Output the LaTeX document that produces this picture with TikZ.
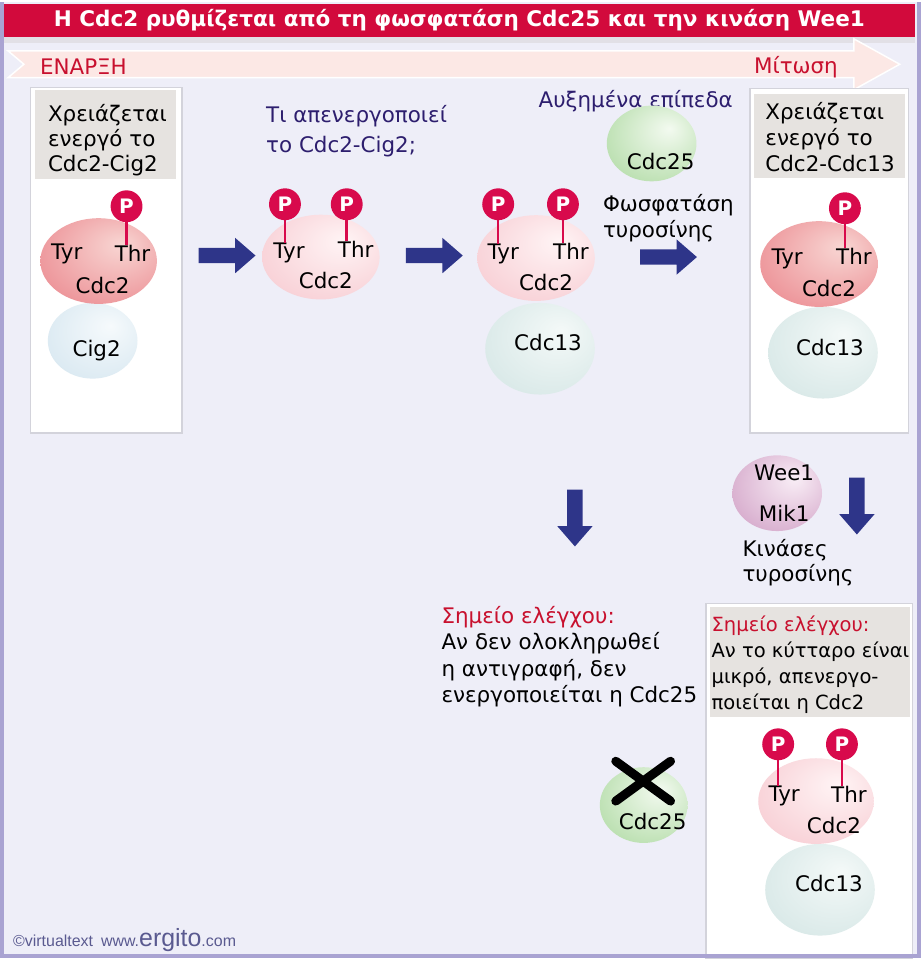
\documentclass[tikz,border=0pt]{standalone}
\usepackage{fontspec}
\setmainfont{DejaVu Sans}
\newfontfamily\footfont{Liberation Sans}
\usetikzlibrary{shapes.arrows,shapes.geometric,calc}

\definecolor{bgcol}{HTML}{EEEEF8}
\definecolor{framecol}{HTML}{A9A3D2}
\definecolor{titlered}{HTML}{D20A3C}
\definecolor{stripgray}{HTML}{E2E0E6}
\definecolor{bandpink}{HTML}{FCE8E5}
\definecolor{checkred}{HTML}{C8102E}
\definecolor{navytext}{HTML}{2D1E6E}
\definecolor{arrowblue}{HTML}{2E3589}
\definecolor{pred}{HTML}{D80A4C}
\definecolor{headgray}{HTML}{E6E3E0}
\definecolor{panelline}{HTML}{D3D3DB}
\definecolor{footcol}{HTML}{5A5A90}
\definecolor{cdcAin}{HTML}{F8D6D3}
\definecolor{cdcAout}{HTML}{E35A66}
\definecolor{cdcIin}{HTML}{FFF4F5}
\definecolor{cdcIout}{HTML}{F2B2BC}
\definecolor{cigin}{HTML}{F6FAFC}
\definecolor{cigout}{HTML}{C3DBE9}
\definecolor{cycin}{HTML}{F4F9F8}
\definecolor{cycout}{HTML}{C2DBDA}
\definecolor{ptpin}{HTML}{F3FAF0}
\definecolor{ptpout}{HTML}{89C878}
\definecolor{weein}{HTML}{F9EEF6}
\definecolor{weeout}{HTML}{BA74AA}

\pgfdeclareradialshading{shCdcA}{\pgfpoint{10bp}{10bp}}{color(0bp)=(cdcAin); color(62bp)=(cdcAout)}
\pgfdeclareradialshading{shCdcI}{\pgfpoint{10bp}{10bp}}{color(0bp)=(cdcIin); color(62bp)=(cdcIout)}
\pgfdeclareradialshading{shCig}{\pgfpoint{10bp}{10bp}}{color(0bp)=(cigin); color(62bp)=(cigout)}
\pgfdeclareradialshading{shCyc}{\pgfpoint{10bp}{10bp}}{color(0bp)=(cycin); color(62bp)=(cycout)}
\pgfdeclareradialshading{shPtp}{\pgfpoint{10bp}{10bp}}{color(0bp)=(ptpin); color(62bp)=(ptpout)}
\pgfdeclareradialshading{shWee}{\pgfpoint{10bp}{10bp}}{color(0bp)=(weein); color(62bp)=(weeout)}

\tikzset{
  txt/.style={inner sep=0pt, font=\fontsize{21.5}{25}\selectfont},
  lines/.style={txt, align=left, anchor=north west},
  phase/.style={inner sep=0pt, text=checkred, font=\fontsize{21.5}{22}\selectfont},
  panel/.style={draw=panelline, line width=1.5pt, fill=white, anchor=north west, inner sep=0pt},
  headbox/.style={fill=headgray, anchor=north west, inner sep=0pt},
  prot/.style={ellipse, inner sep=0pt},
  phos/.style={circle, fill=pred, text=white, inner sep=0pt, minimum size=32pt,
    font=\bfseries\fontsize{20}{20}\selectfont},
  stem/.style={pred, line width=2.5pt},
  fwd/.style={single arrow, fill=arrowblue, inner sep=7.5pt, single arrow head extend=10pt,
    single arrow tip angle=82, minimum height=57pt},
  down/.style={fwd, rotate=-90},
  cross/.style={line width=9pt, line cap=round}
}

\begin{document}
\begin{tikzpicture}[x=1pt,y=-1pt]
	\fill[bgcol] (0,0) rectangle (924,959);
	\fill[stripgray] (4,35) rectangle (918,41);
	\fill[titlered] (4,2) rectangle (918,35);
	\node[text=white, font=\bfseries\fontsize{21.6}{22}\selectfont] (title) at (461,18) {Η Cdc2 ρυθμίζεται από τη φωσφατάση Cdc25 και την κινάση Wee1};
	
	% time band
	\fill[bandpink, draw=white, line width=1.5pt] (8,49) -- (857,49) -- (857,37) -- (903,62.5) -- (857,88) -- (857,76) -- (8,76) -- (24,62.5) -- cycle;
	\node[phase, anchor=west] (start) at (40,65) {ΕΝΑΡΞΗ};
	\node[phase, anchor=east] (mitosis) at (841,65) {Μίτωση};
	
	% Cdc2-Cig2
	\node[panel, minimum width=152, minimum height=347] (box1) at (30,85) {};
	\node[headbox, minimum width=141, minimum height=89] (head1) at (35,88) {};
	\node[lines] (need1) at (48,103) {Χρειάζεται\\ενεργό το\\Cdc2-Cig2};
	\node[prot, shading=shCig, minimum width=90, minimum height=76] (cig1) at (93,340) {};
	\node[prot, shading=shCdcA, minimum width=117, minimum height=86] (cdc1) at (99,260) {};
	\node[txt] (tyr1) at (67,253) {Tyr};
	\node[txt] (thr1) at (133,252) {Thr};
	\node[txt] (lab1) at (103,285) {Cdc2};
	\node[txt] (cigl1) at (97,350) {Cig2};
	\node[phos] (p1) at (127,205) {P};
	\draw[stem] (p1.south) -- (p1.south |- thr1.north);
	
	\node[fwd] (a1) at (223.5,254.5) {};
	
	\node[lines, text=navytext, font=\fontsize{21.5}{30}\selectfont] (ask) at (267,104) {Τι απενεργοποιεί\\το Cdc2-Cig2;};
	\node[prot, shading=shCdcI, minimum width=118, minimum height=85] (cdc2) at (322,256) {};
	\node[txt] (tyr2) at (290,252) {Tyr};
	\node[txt] (thr2) at (357,248) {Thr};
	\node[txt] (lab2) at (327,280) {Cdc2};
	\node[phos] (p21) at (286,203) {P};
	\node[phos] (p22) at (348,203) {P};
	\draw[stem] (p21.south) -- (p21.south |- tyr2.north);
	\draw[stem] (p22.south) -- (p22.south |- thr2.north);
	
	\node[fwd] (a2) at (431.5,254.5) {};
	
	% Cdc2-Cdc13, inactive
	\node[prot, shading=shCyc, minimum width=110, minimum height=92] (cyc3) at (542,348) {};
	\node[prot, shading=shCdcI, minimum width=118, minimum height=86] (cdc3) at (538,257) {};
	\node[txt] (tyr3) at (505,253) {Tyr};
	\node[txt] (thr3) at (573,250) {Thr};
	\node[txt] (lab3) at (548,282) {Cdc2};
	\node[txt] (cycl3) at (550,342) {Cdc13};
	\node[phos] (p31) at (500,203) {P};
	\node[phos] (p32) at (565,203) {P};
	\draw[stem] (p31.south) -- (p31.south |- tyr3.north);
	\draw[stem] (p32.south) -- (p32.south |- thr3.north);
	
	% Cdc25
	\node[txt, text=navytext] (more) at (638,100) {Αυξημένα επίπεδα};
	\node[prot, shading=shPtp, minimum width=90, minimum height=76] (ptp1) at (654,142) {};
	\node[txt] (ptpl1) at (663,160) {Cdc25};
	\node[lines, font=\fontsize{21.5}{26}\selectfont] (phosph) at (605,193) {Φωσφατάση\\τυροσίνης};
	\node[fwd] (a3) at (666.5,256) {};
	
	% Cdc2-Cdc13, active
	\node[panel, minimum width=159, minimum height=346] (box4) at (752,86) {};
	\node[headbox, minimum width=151, minimum height=84] (head4) at (757,92) {};
	\node[lines, font=\fontsize{21.5}{26}\selectfont] (need4) at (768,101) {Χρειάζεται\\ενεργό το\\Cdc2-Cdc13};
	\node[prot, shading=shCyc, minimum width=110, minimum height=92] (cyc4) at (826,352) {};
	\node[prot, shading=shCdcA, minimum width=118, minimum height=86] (cdc4) at (822,263) {};
	\node[txt] (tyr4) at (790,258) {Tyr};
	\node[txt] (thr4) at (857,255) {Thr};
	\node[txt] (lab4) at (832,288) {Cdc2};
	\node[txt] (cycl4) at (833,347) {Cdc13};
	\node[phos] (p4) at (848,207) {P};
	\draw[stem] (p4.south) -- (p4.south |- thr4.north);
	
	% checkpoints
	\node[down] (a4) at (577,513.5) {};
	\node[down] (a5) at (860,501.5) {};
	\node[prot, shading=shWee, minimum width=90, minimum height=76] (wee) at (780,493) {};
	\node[txt] (weel) at (787,473) {Wee1};
	\node[txt] (mikl) at (787,513) {Mik1};
	\node[lines] (kin) at (745,539) {Κινάσες\\τυροσίνης};
	
	\node[lines, font=\fontsize{21.5}{26.7}\selectfont] (chk1) at (443,606) {\textcolor{checkred}{Σημείο ελέγχου:}\\Αν δεν ολοκληρωθεί\\η αντιγραφή, δεν\\ενεργοποιείται η Cdc25};
	
	\node[prot, shading=shPtp, minimum width=88, minimum height=76] (ptp2) at (646,806) {};
	\node[txt] (ptpl2) at (655,823) {Cdc25};
	\draw[cross] ($(ptp2)+(-28,-44)$) -- ($(ptp2)+(27,-4)$);
	\draw[cross] ($(ptp2)+(27,-44)$) -- ($(ptp2)+(-28,-4)$);
	
	\node[panel, minimum width=207, minimum height=356] (box5) at (708,603) {};
	\node[headbox, minimum width=201, minimum height=110] (head5) at (712,607) {};
	\node[lines, font=\fontsize{19.6}{26}\selectfont] (chk2) at (714,616) {\textcolor{checkred}{Σημείο ελέγχου:}\\Αν το κύτταρο είναι\\μικρό, απενεργο-\\ποιείται η Cdc2};
	\node[prot, shading=shCyc, minimum width=110, minimum height=92] (cyc5) at (823,891) {};
	\node[prot, shading=shCdcI, minimum width=116, minimum height=86] (cdc5) at (819,802) {};
	\node[txt] (tyr5) at (787,797) {Tyr};
	\node[txt] (thr5) at (852,795) {Thr};
	\node[txt] (lab5) at (837,827) {Cdc2};
	\node[txt] (cycl5) at (832,885) {Cdc13};
	\node[phos] (p51) at (781,745) {P};
	\node[phos] (p52) at (845,745) {P};
	\draw[stem] (p51.south) -- (p51.south |- tyr5.north);
	\draw[stem] (p52.south) -- (p52.south |- thr5.north);
	
	\node[anchor=base west, inner sep=0pt, text=footcol, font=\footfont\fontsize{16}{16}\selectfont] (credit) at (13,948) {©virtualtext\enspace www.{\fontsize{25}{25}\selectfont ergito}.com};
	
	\draw[framecol, line width=4pt] (2,0) -- (2,957) -- (922,957) -- (922,0);
\end{tikzpicture}
\end{document}
